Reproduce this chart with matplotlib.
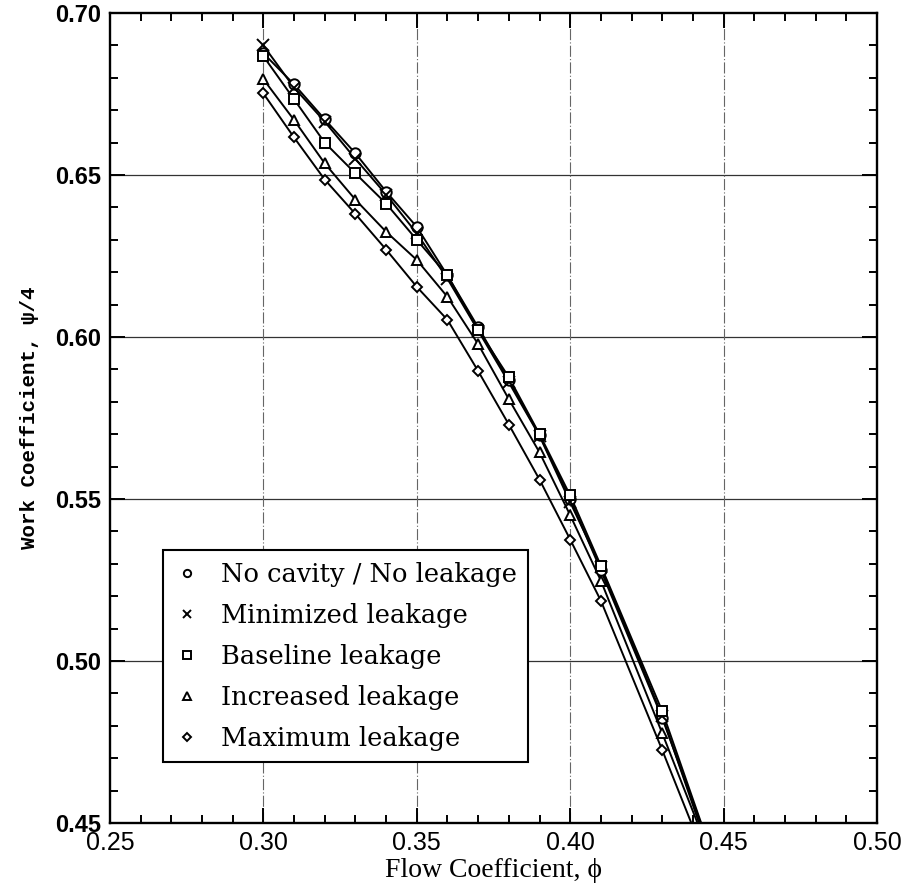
#!/usr/bin/env python3
"""
Work coefficient vs flow coefficient for five cavity leakage configurations.
"""

import matplotlib
matplotlib.use("Agg")
import matplotlib.pyplot as plt
from matplotlib.ticker import MultipleLocator, FormatStrFormatter

# Flow coefficient stations (last station lies below the plotted range)
phi = [0.30, 0.31, 0.32, 0.33, 0.34, 0.35, 0.36, 0.37, 0.38, 0.39, 0.40, 0.41, 0.43, 0.45]

# Work coefficient, psi/4, for each configuration
no_cavity = [0.6876, 0.6780, 0.6672, 0.6567, 0.6449, 0.6340, 0.6190, 0.6030,
             0.5867, 0.5697, 0.5500, 0.5280, 0.4824, 0.4306]
minimized = [0.6900, 0.6770, 0.6665, 0.6550, 0.6440, 0.6320, 0.6180, 0.6020,
             0.5860, 0.5695, 0.5490, 0.5290, 0.4830, 0.4280]
baseline = [0.6867, 0.6734, 0.6600, 0.6505, 0.6412, 0.6300, 0.6190, 0.6022,
            0.5876, 0.5700, 0.5511, 0.5294, 0.4845, 0.4301]
increased = [0.6796, 0.6670, 0.6536, 0.6424, 0.6325, 0.6238, 0.6124, 0.5978,
             0.5808, 0.5644, 0.5450, 0.5248, 0.4777, 0.4295]
maximum = [0.6752, 0.6616, 0.6486, 0.6380, 0.6270, 0.6155, 0.6053, 0.5895,
           0.5730, 0.5560, 0.5375, 0.5186, 0.4725, 0.4250]

labels = ["No cavity / No leakage", "Minimized leakage", "Baseline leakage",
          "Increased leakage", "Maximum leakage"]
series = [no_cavity, minimized, baseline, increased, maximum]
markers = ["o", "x", "s", "^", "D"]
msizes = [7.5, 8.5, 7.5, 7.5, 5.5]

fig = plt.figure(figsize=(9.11, 8.90), dpi=100)
ax = fig.add_axes([0.1207, 0.0753, 0.842, 0.910])

# grid: solid horizontal, dash-dot vertical
for y in [0.50, 0.55, 0.60, 0.65]:
    ax.axhline(y, color="0.2", lw=0.9, zorder=1)
for x in [0.30, 0.35, 0.40, 0.45]:
    ax.axvline(x, color="0.4", lw=0.8, ls=(0, (10, 2, 1, 2)), zorder=1)

for vals, m, ms, lab in zip(series, markers, msizes, labels):
    ax.plot(phi, vals, color="black", lw=1.4, zorder=3)
    ax.plot(phi, vals, ls="none", marker=m, ms=ms, mfc="white", mec="black",
            mew=1.4, label=lab, zorder=4)

ax.set_xlim(0.25, 0.50)
ax.set_ylim(0.45, 0.70)
ax.xaxis.set_major_locator(MultipleLocator(0.05))
ax.xaxis.set_minor_locator(MultipleLocator(0.01))
ax.yaxis.set_major_locator(MultipleLocator(0.05))
ax.yaxis.set_minor_locator(MultipleLocator(0.01))
ax.xaxis.set_major_formatter(FormatStrFormatter("%.2f"))
ax.yaxis.set_major_formatter(FormatStrFormatter("%.2f"))
ax.tick_params(which="both", direction="in", top=True, right=True, width=1.4)
ax.tick_params(which="major", length=11)
ax.tick_params(which="minor", length=6)
ax.tick_params(axis="x", which="major", pad=6)
ax.tick_params(axis="y", which="major", pad=6)
for lbl in ax.get_xticklabels():
    lbl.set_fontfamily("Liberation Sans")
    lbl.set_fontsize(18)
for lbl in ax.get_yticklabels():
    lbl.set_fontfamily("Liberation Sans")
    lbl.set_fontweight("bold")
    lbl.set_fontsize(17)
for sp in ax.spines.values():
    sp.set_linewidth(1.7)

ax.set_xlabel("Flow Coefficient, ϕ", family=["Liberation Serif", "DejaVu Serif"],
              fontsize=20, labelpad=2)
ax.set_ylabel("Work Coefficient, ψ/4", family=["Liberation Mono", "DejaVu Sans Mono"],
              fontweight="bold", fontsize=15, labelpad=12)

leg = ax.legend(loc="lower left", bbox_to_anchor=(0.069, 0.075), borderaxespad=0,
                fancybox=False, framealpha=1, edgecolor="black", markerscale=0.7,
                handlelength=0.95, handletextpad=0.85, borderpad=0.45,
                labelspacing=0.62, prop={"family": "DejaVu Serif", "size": 18.5})
leg.get_frame().set_linewidth(1.5)
leg.set_zorder(5)

fig.savefig("out.png", dpi=100)
